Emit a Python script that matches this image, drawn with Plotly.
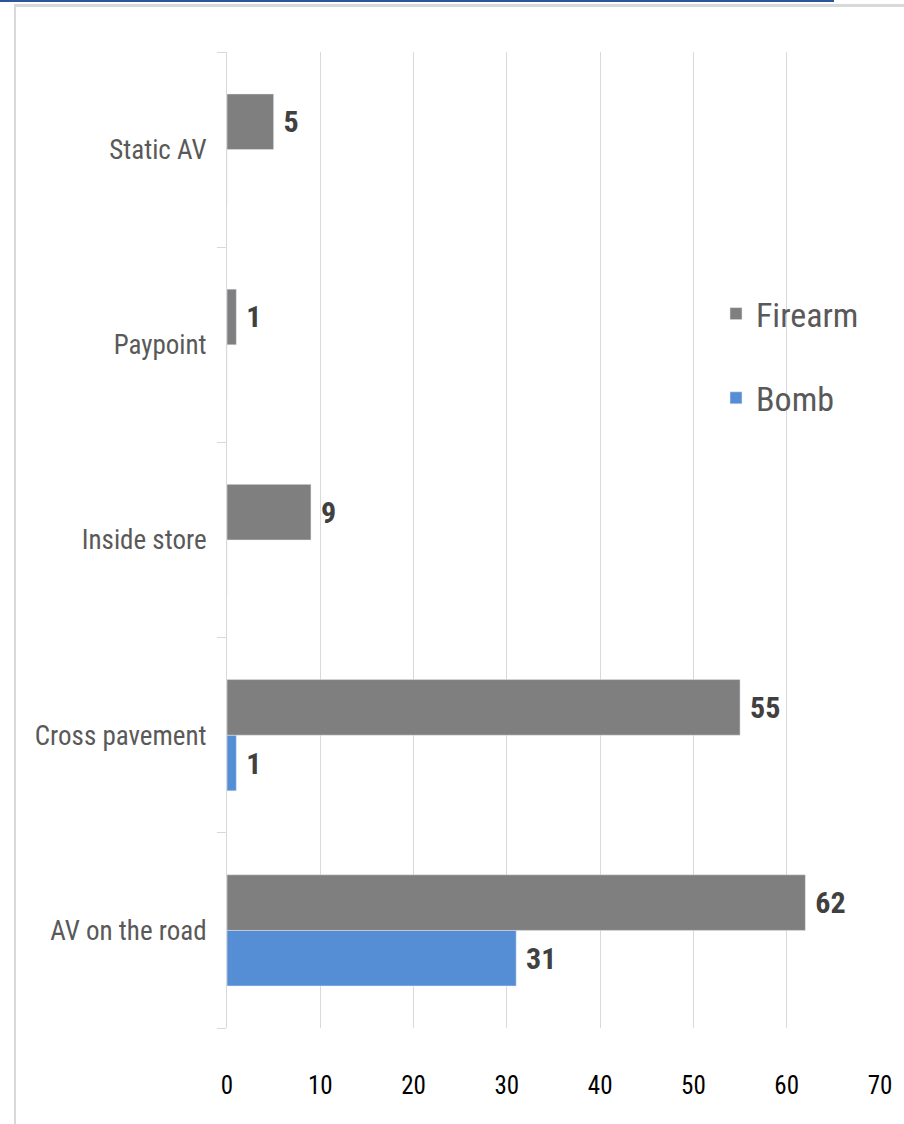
import plotly.graph_objects as go

categories = ["AV on the road", "Cross pavement", "Inside store", "Paypoint", "Static AV"]
firearm = [62, 55, 9, 1, 5]
bomb = [31, 1, 0, 0, 0]
x_ticks = [0, 10, 20, 30, 40, 50, 60, 70]

W, H = 904, 1124
L, R, T, B = 227, 24, 52, 96
pw, ph = W - L - R, H - T - B

def px_x(x):
    return (x - L) / pw

def px_y(y):
    return (H - B - y) / ph

FONT = "Roboto Condensed"
PAD = "\u00a0"

fig = go.Figure()
fig.add_trace(go.Bar(
    y=categories, x=bomb, orientation="h", name="Bomb",
    marker=dict(color="#558ED5"),
    text=[PAD + str(v) if v else "" for v in bomb], textposition="outside",
    textfont=dict(family=FONT, size=30, color="#404040", weight="bold"),
    cliponaxis=False, legendgroup="b", legendrank=2,
))
fig.add_trace(go.Bar(
    y=categories, x=firearm, orientation="h", name="Firearm",
    marker=dict(color="#7F7F7F"),
    text=[PAD + str(v) if v else "" for v in firearm], textposition="outside",
    textfont=dict(family=FONT, size=30, color="#404040", weight="bold"),
    cliponaxis=False, legendgroup="a", legendrank=1,
))

fig.update_layout(
    width=W, height=H,
    margin=dict(l=L, r=R, t=T, b=B),
    paper_bgcolor="white", plot_bgcolor="white",
    barmode="group", bargap=0.43, bargroupgap=0,
    font=dict(family=FONT),
    legend=dict(
        traceorder="grouped", tracegroupgap=37,
        x=px_x(716), xanchor="left", y=px_y(285), yanchor="top",
        font=dict(family=FONT, size=34, color="#595959"),
        bgcolor="rgba(0,0,0,0)",
    ),
    xaxis=dict(
        range=[0, 70], tickvals=x_ticks, showgrid=True, gridcolor="#D9D9D9",
        gridwidth=1, zeroline=False, showline=False, ticks="",
        tickfont=dict(family=FONT, size=25, color="#000000"),
        ticklabelstandoff=40,
    ),
    yaxis=dict(
        categoryorder="array", categoryarray=categories,
        showline=True, linecolor="#D9D9D9", linewidth=1,
        ticks="outside", tickson="boundaries", ticklen=9, tickcolor="#D9D9D9",
        showgrid=False,
        tickfont=dict(family=FONT, size=27, color="#595959"),
        ticklabelstandoff=14,
    ),
    shapes=[
        dict(type="line", xref="paper", yref="paper",
             x0=px_x(0), x1=px_x(834), y0=px_y(1), y1=px_y(1),
             line=dict(color="#2F5597", width=2)),
        dict(type="line", xref="paper", yref="paper",
             x0=px_x(14), x1=px_x(904), y0=px_y(5.5), y1=px_y(5.5),
             line=dict(color="#D9D9D9", width=3)),
        dict(type="line", xref="paper", yref="paper",
             x0=px_x(15), x1=px_x(15), y0=px_y(5), y1=px_y(1124),
             line=dict(color="#D9D9D9", width=2)),
    ],
)

fig.write_html("out.html", config={"displayModeBar": False},
               post_script="document.body.style.margin='0';")
